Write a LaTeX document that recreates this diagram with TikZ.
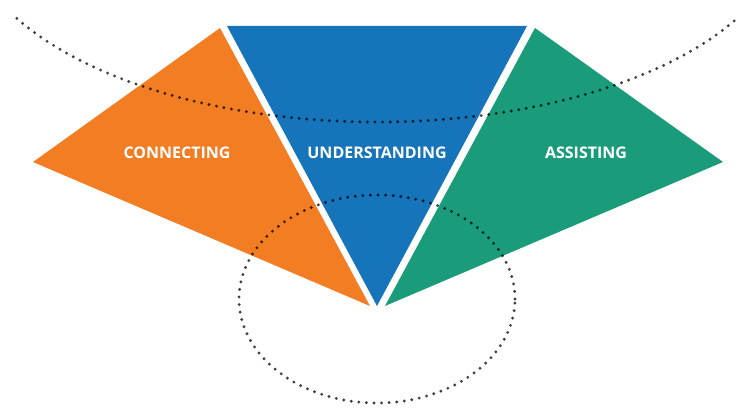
\documentclass[tikz,border=0pt]{standalone}
\usepackage{fontspec}
\setmainfont{Open Sans}
\definecolor{corange}{HTML}{F27D22}
\definecolor{cblue}{HTML}{1674BA}
\definecolor{cgreen}{HTML}{1A9C7B}
\begin{document}
\begin{tikzpicture}[x=1pt,y=1pt,
  dotline/.style={draw=black, draw opacity=0.75, line width=3.2pt, line cap=round, dash pattern=on 0pt off 7.6pt},
  label/.style={text=white, font=\bfseries\fontsize{16}{16}\selectfont, inner sep=0pt}]
\useasboundingbox (0,0) rectangle (741,407);
% wedges
\fill[corange] (220,379) -- (33,245) -- (370,101) -- cycle;
\fill[cblue] (227,381) -- (527,381) -- (377,101) -- cycle;
\fill[cgreen] (535,379) -- (723,245) -- (385,101) -- cycle;
% dotted curves
\draw[dotline] (377,485) ++(208.8:411 and 200) arc[start angle=208.8, end angle=331.2, x radius=411, y radius=200];
\draw[dotline] (377,108) ellipse [x radius=138, y radius=104];
% labels
\node[label] (con) at (177,254) {CONNECTING};
\node[label] (und) at (377,254) {UNDERSTANDING};
\node[label] (ass) at (586,254) {ASSISTING};
\end{tikzpicture}
\end{document}
